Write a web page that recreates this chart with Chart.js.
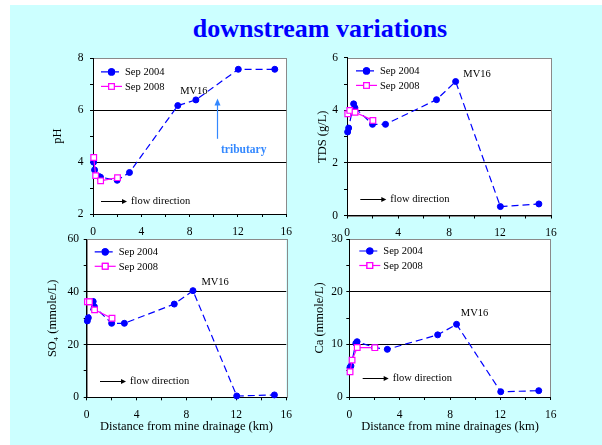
<!DOCTYPE html>
<html>
<head>
<meta charset="utf-8">
<script src="https://cdn.jsdelivr.net/npm/chart.js@4.4.0/dist/chart.umd.min.js"></script>
<style>
    body { margin: 0; background: #fff; width: 602px; height: 445px; overflow: hidden; }
    #slide { position: absolute; left: 10px; top: 5px; width: 592px; height: 440px; background: #ccffff; }
    #title { position: absolute; left: 120px; top: 16px; width: 400px; text-align: center;
             font: bold 26px 'Liberation Serif', 'Times New Roman', serif; line-height: 26px; color: #0000ff; }
    canvas { position: absolute; }
</style>
</head>
<body>
<div id="slide"></div>
<div id="title">downstream variations</div>
<canvas id="phChart" width="260" height="200" style="left:40px;top:45px"></canvas>
<canvas id="tdsChart" width="275" height="200" style="left:295px;top:45px"></canvas>
<canvas id="so4Chart" width="260" height="220" style="left:40px;top:225px"></canvas>
<canvas id="caChart" width="275" height="220" style="left:295px;top:225px"></canvas>
<script>
// distance from mine drainage (km)
const dist2004 = [0.05, 0.13, 0.52, 0.62, 2.0, 3.02, 7.02, 8.52, 12.03, 15.05];
const dist2008 = [0.06, 0.22, 0.63, 2.03];

const ph2004 = [4.0, 3.7, 3.44, 3.42, 3.3, 3.6, 6.18, 6.4, 7.58, 7.58];
const ph2008 = [4.18, 3.48, 3.28, 3.4];

const tds2004 = [3.18, 3.33, 4.25, 4.1, 3.47, 3.47, 4.41, 5.1, 0.34, 0.44];
const tds2008 = [3.87, 4.0, 3.93, 3.62];

const so42004 = [29.0, 30.2, 36.4, 34.4, 28.1, 28.1, 35.4, 40.5, 0.5, 0.9];
const so42008 = [36.3, 36.3, 33.2, 30.0];

const ca2004 = [5.6, 5.9, 10.2, 10.5, 9.4, 9.05, 11.8, 13.8, 1.0, 1.2];
const ca2008 = [4.8, 7.0, 9.4, 9.37];

const xTicks = [0, 4, 8, 12, 16];
const serif = "'Liberation Serif', 'Times New Roman', serif";

function points(xs, ys) {
    return xs.map((x, i) => ({ x: x, y: ys[i] }));
}

// white plot area, grey frame, legend and notes
const panelPlugin = {
    id: 'panel',
    beforeDraw(chart) {
        const a = chart.chartArea;
        const ctx = chart.ctx;
        ctx.save();
        ctx.fillStyle = '#fff';
        ctx.fillRect(a.left, a.top, a.right - a.left, a.bottom - a.top);
        ctx.strokeStyle = '#8a8a8a';
        ctx.lineWidth = 1;
        ctx.strokeRect(Math.round(a.left) + 0.5, Math.round(a.top) + 0.5,
            Math.round(a.right - a.left), Math.round(a.bottom - a.top));
        ctx.restore();
    },
    afterDraw(chart, args, opts) {
        const a = chart.chartArea;
        const ctx = chart.ctx;
        const xs = chart.scales.x;
        const ys = chart.scales.y;
        ctx.save();
        ctx.font = '10.5px ' + serif;
        ctx.textBaseline = 'middle';

        // legend
        chart.data.datasets.slice().reverse().forEach((ds, i) => {
            const lx = a.left + opts.legend[0];
            const ly = a.top + opts.legend[1] + i * 14.5;
            ctx.strokeStyle = ds.borderColor;
            ctx.lineWidth = ds.borderWidth;
            ctx.setLineDash(ds.borderDash || []);
            ctx.beginPath();
            ctx.moveTo(lx, ly);
            ctx.lineTo(lx + 21, ly);
            ctx.stroke();
            ctx.setLineDash([]);
            Chart.helpers.drawPoint(ctx, {
                pointStyle: ds.pointStyle, radius: ds.pointRadius, rotation: 0,
                borderWidth: ds.pointBorderWidth || 1
            }, lx + 10.5, ly);
            ctx.fillStyle = ds.backgroundColor;
            ctx.strokeStyle = ds.borderColor;
            ctx.fill();
            ctx.stroke();
            ctx.fillStyle = '#000';
            ctx.textAlign = 'left';
            ctx.fillText(ds.label, lx + 24, ly + 0.5);
        });

        // MV16 label
        ctx.fillStyle = '#000';
        ctx.textAlign = 'center';
        ctx.fillText('MV16', xs.getPixelForValue(opts.mv16[0]), ys.getPixelForValue(opts.mv16[1]));

        // flow direction arrow
        const fx = a.left + opts.flow[0];
        const fy = Math.round(a.bottom - opts.flow[1]) + 0.5;
        ctx.strokeStyle = '#000';
        ctx.lineWidth = 1;
        ctx.beginPath();
        ctx.moveTo(fx, fy);
        ctx.lineTo(fx + 22, fy);
        ctx.stroke();
        ctx.beginPath();
        ctx.moveTo(fx + 26, fy);
        ctx.lineTo(fx + 21, fy - 2.5);
        ctx.lineTo(fx + 21, fy + 2.5);
        ctx.closePath();
        ctx.fillStyle = '#000';
        ctx.fill();
        ctx.textAlign = 'left';
        ctx.fillText('flow direction', fx + 30, fy);

        // tributary arrow (pH only)
        if (opts.tributary) {
            const t = opts.tributary;
            const tx = Math.round(xs.getPixelForValue(t.x)) + 0.5;
            const y0 = ys.getPixelForValue(t.from);
            const y1 = ys.getPixelForValue(t.to);
            ctx.strokeStyle = '#3388ff';
            ctx.fillStyle = '#3388ff';
            ctx.lineWidth = 1.2;
            ctx.beginPath();
            ctx.moveTo(tx, y0);
            ctx.lineTo(tx, y1 + 5);
            ctx.stroke();
            ctx.beginPath();
            ctx.moveTo(tx, y1);
            ctx.lineTo(tx - 3, y1 + 7);
            ctx.lineTo(tx + 3, y1 + 7);
            ctx.closePath();
            ctx.fill();
            ctx.font = 'bold 11.5px ' + serif;
            ctx.textAlign = 'left';
            ctx.fillText('tributary', xs.getPixelForValue(t.labelX), ys.getPixelForValue(t.labelY));
        }
        ctx.restore();
    }
};

function panelChart(id, p) {
    const ctx = document.getElementById(id).getContext('2d');
    return new Chart(ctx, {
        type: 'line',
        data: {
            datasets: [{
                label: 'Sep 2008',
                data: points(dist2008, p.v2008),
                borderColor: '#ff00ff',
                backgroundColor: '#ffffff',
                borderWidth: 1.2,
                pointStyle: 'rect',
                pointRadius: 4,
                pointBorderWidth: 1.2,
                clip: false,
            }, {
                label: 'Sep 2004',
                data: points(dist2004, p.v2004),
                borderColor: '#0000ff',
                backgroundColor: '#0000ff',
                borderWidth: 1.2,
                borderDash: [7, 4],
                pointStyle: 'circle',
                pointRadius: 3,
                pointBorderWidth: 1,
                clip: false,
            }],
        },
        options: {
            responsive: false,
            animation: false,
            layout: { padding: { top: p.padTop, right: p.padRight, left: 0, bottom: 0 } },
            plugins: {
                legend: { display: false },
                tooltip: { enabled: false },
                panel: p,
            },
            scales: {
                x: {
                    type: 'linear',
                    min: 0,
                    max: 16,
                    afterFit: scale => { scale.height = p.xHeight; },
                    ticks: {
                        stepSize: 2,
                        autoSkip: false,
                        maxRotation: 0,
                        padding: 8,
                        color: '#000',
                        font: { family: serif, size: 11.5 },
                        callback: v => xTicks.includes(v) ? v : '',
                    },
                    grid: { drawOnChartArea: false, tickLength: 3, tickColor: '#000' },
                    border: { color: '#000' },
                    title: {
                        display: !!p.xTitle,
                        text: p.xTitle || '',
                        color: '#000',
                        font: { family: serif, size: 12.5 },
                        padding: { bottom: 10.5, top: 0 },
                    },
                },
                y: {
                    min: p.yMin,
                    max: p.yMax,
                    afterFit: scale => { scale.width = p.yWidth; },
                    ticks: {
                        stepSize: p.yStep,
                        autoSkip: false,
                        padding: p.yTickPad,
                        color: '#000',
                        font: { family: serif, size: 11.5 },
                        callback: v => v % p.yMajor === 0 ? v : '',
                    },
                    grid: {
                        tickLength: 3,
                        tickColor: '#000',
                        color: c => (c.tick && c.tick.value % p.yMajor === 0 &&
                            c.tick.value !== p.yMin && c.tick.value !== p.yMax) ? '#000' : 'rgba(0,0,0,0)',
                    },
                    border: { color: '#000' },
                    title: {
                        display: true,
                        text: p.yTitle,
                        color: '#000',
                        font: { family: serif, size: 12.5 },
                        padding: { top: p.yTitlePad, bottom: 0 },
                    },
                },
            },
        },
        plugins: [panelPlugin],
    });
}

panelChart('phChart', {
    v2004: ph2004, v2008: ph2008,
    yMin: 2, yMax: 8, yStep: 1, yMajor: 2, yTitle: 'pH',
    padTop: 12, padRight: 13, yWidth: 53, xHeight: 31, yTitlePad: 10.5, yTickPad: 6.5,
    legend: [8, 13.5], mv16: [8.35, 6.74], flow: [8, 13],
    tributary: { x: 10.3, from: 4.9, to: 6.45, labelX: 10.6, labelY: 4.47 },
});

panelChart('tdsChart', {
    v2004: tds2004, v2008: tds2008,
    yMin: 0, yMax: 6, yStep: 1, yMajor: 2, yTitle: 'TDS (g/L)',
    padTop: 12, padRight: 19, yWidth: 52, xHeight: 29.5, yTitlePad: 20.5, yTickPad: 6,
    legend: [9, 13], mv16: [10.2, 5.36], flow: [13.3, 16.5],
});

panelChart('so4Chart', {
    v2004: so42004, v2008: so42008,
    yMin: 0, yMax: 60, yStep: 10, yMajor: 20, yTitle: 'SO\u2084 (mmole/L)',
    xTitle: 'Distance from mine drainage (km)',
    padTop: 14.3, padRight: 13.3, yWidth: 46.7, xHeight: 47.7, yTitlePad: 5.5, yTickPad: 4.7,
    legend: [8, 12.5], mv16: [10.3, 43.8], flow: [13.3, 16.6],
});

panelChart('caChart', {
    v2004: ca2004, v2008: ca2008,
    yMin: 0, yMax: 30, yStep: 5, yMajor: 10, yTitle: 'Ca (mmole/L)',
    xTitle: 'Distance from mine drainages (km)',
    padTop: 14, padRight: 19.3, yWidth: 54.3, xHeight: 48, yTitlePad: 17.5, yTickPad: 3.5,
    legend: [10, 12], mv16: [9.95, 15.9], flow: [13.4, 18.7],
});
</script>
</body>
</html>
